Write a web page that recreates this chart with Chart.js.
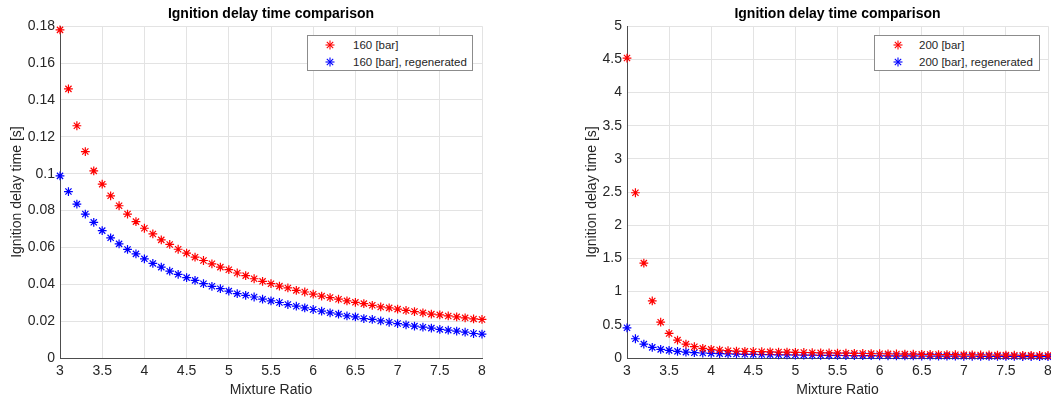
<!DOCTYPE html>
<html>
<head>
<meta charset="utf-8">
<script src="https://cdn.jsdelivr.net/npm/chart.js@4.4.0/dist/chart.umd.min.js"></script>
<style>
  html, body { margin: 0; padding: 0; background: #fff; overflow: hidden; width: 1051px; height: 401px; }
  .box { position: absolute; top: 0; height: 401px; }
  .legenda { position: absolute; background: #fff; border: 1px solid #8c8c8c; font-family: "Liberation Sans", Arial, sans-serif; font-size: 11.5px; color: #262626; }
  .legenda .linha { position: absolute; left: 0; height: 16px; line-height: 16px; white-space: nowrap; }
  .legenda svg { position: absolute; top: 3px; }
  .legenda span { position: absolute; }
</style>
</head>
<body>
<div class="box" style="left:0;width:500px"><canvas id="chart160" width="500" height="401"></canvas></div>
<div class="box" style="left:560px;width:511px"><canvas id="chart200" width="511" height="401"></canvas></div>
<div class="legenda" id="leg160" style="left:307px;top:35px;width:164px;height:34px"></div>
<div class="legenda" id="leg200" style="left:874px;top:35px;width:164px;height:34px"></div>
<script>
// dados
var mixRatio = [3.0, 3.1, 3.2, 3.3, 3.4, 3.5, 3.6, 3.7, 3.8, 3.9,
                4.0, 4.1, 4.2, 4.3, 4.4, 4.5, 4.6, 4.7, 4.8, 4.9,
                5.0, 5.1, 5.2, 5.3, 5.4, 5.5, 5.6, 5.7, 5.8, 5.9,
                6.0, 6.1, 6.2, 6.3, 6.4, 6.5, 6.6, 6.7, 6.8, 6.9,
                7.0, 7.1, 7.2, 7.3, 7.4, 7.5, 7.6, 7.7, 7.8, 7.9, 8.0];

var idt160 = [0.178, 0.146, 0.126, 0.112, 0.1015, 0.0943, 0.088, 0.0826, 0.0781, 0.074,
              0.0704, 0.0673, 0.0641, 0.0616, 0.059, 0.0569, 0.0547, 0.0529, 0.0511, 0.0493,
              0.0479, 0.0461, 0.0447, 0.043, 0.0416, 0.0403, 0.039, 0.038, 0.0367, 0.0358,
              0.0346, 0.0336, 0.0328, 0.0319, 0.031, 0.0302, 0.0295, 0.0286, 0.0277, 0.0272,
              0.0265, 0.0258, 0.0252, 0.0245, 0.0238, 0.0234, 0.0228, 0.0223, 0.0218, 0.0212, 0.0209];

var idt160Regen = [0.0988, 0.0903, 0.0835, 0.0781, 0.0736, 0.0691, 0.0652, 0.0619, 0.0589, 0.0565,
                   0.0538, 0.0513, 0.0493, 0.0471, 0.0454, 0.0436, 0.0421, 0.0403, 0.0389, 0.0376,
                   0.0363, 0.0349, 0.034, 0.0331, 0.0319, 0.031, 0.0301, 0.029, 0.0281, 0.0272,
                   0.0263, 0.0254, 0.0245, 0.0238, 0.0228, 0.0223, 0.0214, 0.0209, 0.0201, 0.0194,
                   0.0187, 0.018, 0.0173, 0.0167, 0.0162, 0.0155, 0.0151, 0.0146, 0.014, 0.0133, 0.013];

var idt200 = [4.52, 2.49, 1.43, 0.86, 0.54, 0.37, 0.27, 0.21, 0.17, 0.145,
              0.13, 0.12, 0.11, 0.105, 0.1, 0.098, 0.095, 0.092, 0.09, 0.088,
              0.085, 0.083, 0.08, 0.078, 0.076, 0.074, 0.072, 0.07, 0.068, 0.066,
              0.064, 0.062, 0.06, 0.058, 0.057, 0.055, 0.054, 0.052, 0.051, 0.05,
              0.048, 0.047, 0.046, 0.045, 0.044, 0.043, 0.042, 0.041, 0.04, 0.039, 0.038];

var idt200Regen = [0.455, 0.29, 0.21, 0.16, 0.13, 0.115, 0.1, 0.088, 0.08, 0.075,
                   0.07, 0.066, 0.062, 0.059, 0.056, 0.054, 0.052, 0.05, 0.048, 0.046,
                   0.045, 0.043, 0.042, 0.041, 0.04, 0.039, 0.038, 0.037, 0.036, 0.035,
                   0.034, 0.033, 0.032, 0.031, 0.031, 0.03, 0.029, 0.028, 0.028, 0.027,
                   0.026, 0.026, 0.025, 0.024, 0.024, 0.023, 0.023, 0.022, 0.022, 0.021, 0.021];

var xTicks = [3, 3.5, 4, 4.5, 5, 5.5, 6, 6.5, 7, 7.5, 8];
var yTicks160 = [0, 0.02, 0.04, 0.06, 0.08, 0.1, 0.12, 0.14, 0.16, 0.18];
var yTicks200 = [0, 0.5, 1, 1.5, 2, 2.5, 3, 3.5, 4, 4.5, 5];

var labels160 = ['160 [bar]', '160 [bar], regenerated'];
var labels200 = ['200 [bar]', '200 [bar], regenerated'];
var cores = ['#ff0000', '#0000ff'];

var fonte = "'Liberation Sans', Arial, sans-serif";
var corTexto = '#262626';

function pontos(xs, ys){
    var res = [];
    for (var i = 0; i < xs.length; i++) {
        res.push({x: xs[i], y: ys[i]});
    }
    return res;
}

function serie(label, cor, ys){
    return {
        label: label,
        data: pontos(mixRatio, ys),
        pointStyle: 'star',
        pointRadius: 4.4,
        pointBorderWidth: 1.2,
        borderColor: cor,
        backgroundColor: cor,
        showLine: false,
        clip: false
    };
}

//Função para montar um grafico
function criarGrafico(id, labels, series, yTicks, yMax, yWidth, yTitlePad, padRight){
    var ctx = document.getElementById(id);
    return new Chart(ctx, {
        type: 'scatter',
        data: {
            datasets: [
                serie(labels[0], cores[0], series[0]),
                serie(labels[1], cores[1], series[1])
            ]
        },
        options: {
            responsive: false,
            animation: false,
            layout: { padding: { left: 0, right: padRight, top: 0, bottom: 0 } },
            plugins: {
                legend: { display: false },
                tooltip: { enabled: false },
                title: {
                    display: true,
                    fullSize: false,
                    text: 'Ignition delay time comparison',
                    color: '#000',
                    font: { family: fonte, size: 14, weight: 'bold' },
                    padding: { top: 6, bottom: 3.4 }
                }
            },
            scales: {
                x: {
                    type: 'linear',
                    min: 3,
                    max: 8,
                    afterBuildTicks: function(scale){
                        scale.ticks = xTicks.map(function(v){ return {value: v}; });
                    },
                    afterFit: function(scale){ scale.height = 43; },
                    ticks: {
                        color: corTexto,
                        font: { family: fonte, size: 14 },
                        padding: 5,
                        maxRotation: 0,
                        callback: function(v){ return String(v); }
                    },
                    grid: { color: '#e3e3e3', drawTicks: false },
                    border: { color: '#4d4d4d', width: 1 },
                    title: {
                        display: true,
                        text: 'Mixture Ratio',
                        color: corTexto,
                        font: { family: fonte, size: 14 },
                        padding: { top: 0, bottom: 2 }
                    }
                },
                y: {
                    type: 'linear',
                    min: 0,
                    max: yMax,
                    afterBuildTicks: function(scale){
                        scale.ticks = yTicks.map(function(v){ return {value: v}; });
                    },
                    afterFit: function(scale){ scale.width = yWidth; },
                    ticks: {
                        color: corTexto,
                        font: { family: fonte, size: 14 },
                        padding: 5,
                        callback: function(v){ return String(v); }
                    },
                    grid: { color: '#e3e3e3', drawTicks: false },
                    border: { color: '#4d4d4d', width: 1 },
                    title: {
                        display: true,
                        text: 'Ignition delay time [s]',
                        color: corTexto,
                        font: { family: fonte, size: 14 },
                        padding: { top: yTitlePad, bottom: 0 }
                    }
                }
            }
        }
    });
}

//Função para desenhar a legenda em html
function criarLegenda(id, labels, starX, textX){
    var div = document.getElementById(id);
    for (var i = 0; i < labels.length; i++) {
        var linha = document.createElement('div');
        linha.className = 'linha';
        linha.style.top = (i == 0 ? 1 : 18) + 'px';
        linha.style.width = '100%';
        var c = cores[i];
        linha.innerHTML =
            '<svg width="10" height="10" style="left:' + (starX - 5) + 'px">' +
            '<g stroke="' + c + '" stroke-width="1.1">' +
            '<line x1="5" y1="0.5" x2="5" y2="9.5"/><line x1="0.5" y1="5" x2="9.5" y2="5"/>' +
            '<line x1="1.8" y1="1.8" x2="8.2" y2="8.2"/><line x1="8.2" y1="1.8" x2="1.8" y2="8.2"/>' +
            '</g></svg>';
        var span = document.createElement('span');
        span.style.left = textX + 'px';
        span.textContent = labels[i];
        linha.appendChild(span);
        div.appendChild(linha);
    }
}

criarGrafico('chart160', labels160, [idt160, idt160Regen], yTicks160, 0.18, 60, 8.5, 18);
criarGrafico('chart200', labels200, [idt200, idt200Regen], yTicks200, 5, 67, 23.5, 23);
criarLegenda('leg160', labels160, 22, 45);
criarLegenda('leg200', labels200, 23, 44);
</script>
</body>
</html>
